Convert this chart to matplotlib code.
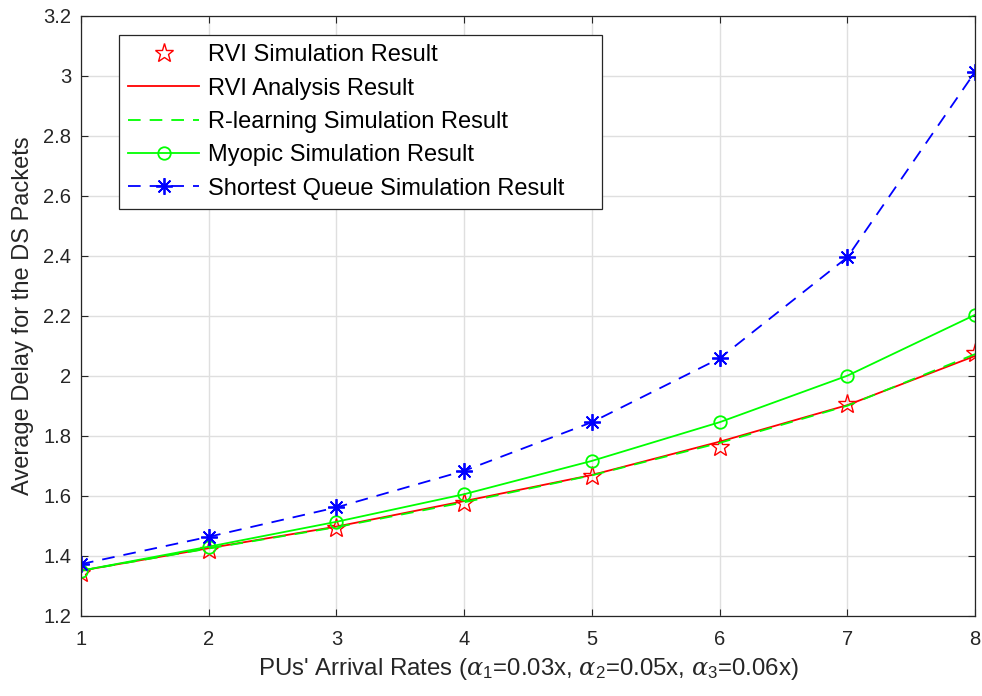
import numpy as np
import matplotlib.pyplot as plt

plt.rcParams['font.family'] = ['Liberation Sans', 'DejaVu Sans']
plt.rcParams['mathtext.fontset'] = 'custom'
plt.rcParams['mathtext.it'] = 'DejaVu Serif:italic'
plt.rcParams['mathtext.rm'] = 'Liberation Sans'

# data
x = [1, 2, 3, 4, 5, 6, 7, 8]
rvi_sim = [1.342, 1.419, 1.491, 1.575, 1.666, 1.763, 1.905, 2.075]
rvi_ana = [1.350, 1.425, 1.497, 1.582, 1.669, 1.780, 1.902, 2.066]
rlearn = [1.350, 1.424, 1.495, 1.578, 1.668, 1.776, 1.900, 2.072]
myopic = [1.350, 1.430, 1.513, 1.605, 1.716, 1.845, 2.000, 2.203]
shortest = [1.372, 1.463, 1.561, 1.683, 1.845, 2.058, 2.395, 3.013]

fig = plt.figure(figsize=(9.82, 6.96), dpi=100)
ax = fig.add_axes([0.0825, 0.1154, 0.9105, 0.862])

ax.plot(x, rvi_sim, linestyle='none', marker='*', markersize=14,
        markerfacecolor='none', markeredgecolor='red', markeredgewidth=1.0,
        label='RVI Simulation Result')
ax.plot(x, rvi_ana, color='red', lw=1.3, label='RVI Analysis Result')
ax.plot(x, rlearn, color='#00ff00', lw=1.3, dashes=(7, 5),
        label='R-learning Simulation Result')
ax.plot(x, myopic, color='#00ff00', lw=1.3, marker='o', markersize=9,
        markerfacecolor='none', markeredgewidth=1.3,
        label='Myopic Simulation Result')
ax.plot(x, shortest, color='blue', lw=1.3, dashes=(7, 5), marker=(8, 2, 0),
        markersize=12, markeredgewidth=1.3,
        label='Shortest Queue Simulation Result')

ax.set_xlim(1, 8)
ax.set_ylim(1.2, 3.2)
ax.set_xticks(x)
ax.set_yticks(np.arange(1.2, 3.21, 0.2))
ax.set_yticklabels(['1.2', '1.4', '1.6', '1.8', '2', '2.2', '2.4', '2.6',
                    '2.8', '3', '3.2'])
ax.grid(True, color='#dfdfdf', lw=1.0)
ax.set_axisbelow(True)
ax.tick_params(direction='in', top=True, right=True, length=5,
               labelsize=14.5, colors='#262626', width=0.8)
ax.tick_params(axis='x', pad=10)
ax.tick_params(axis='y', pad=7)
for s in ax.spines.values():
    s.set_color('#262626')
    s.set_linewidth(0.9)

ax.set_xlabel(r"PUs' Arrival Rates ($\alpha_1$=0.03x, $\alpha_2$=0.05x, $\alpha_3$=0.06x)",
              fontsize=17.3, color='#262626', labelpad=5.5)
ax.set_ylabel('Average Delay for the DS Packets', fontsize=17,
              color='#262626', labelpad=7)

# legend box spans roughly x 119..602 px, y 35..208 px in the reference
leg = ax.legend(loc='upper left', bbox_to_anchor=(0.0425, 0.68, 0.540, 0.288),
                mode='expand', borderaxespad=0, fontsize=17, handlelength=3.0,
                handletextpad=0.35, labelspacing=0.48, borderpad=0.4,
                fancybox=False, framealpha=1, edgecolor='#262626')
leg.get_frame().set_linewidth(0.9)

fig.savefig('out.png', dpi=100)
